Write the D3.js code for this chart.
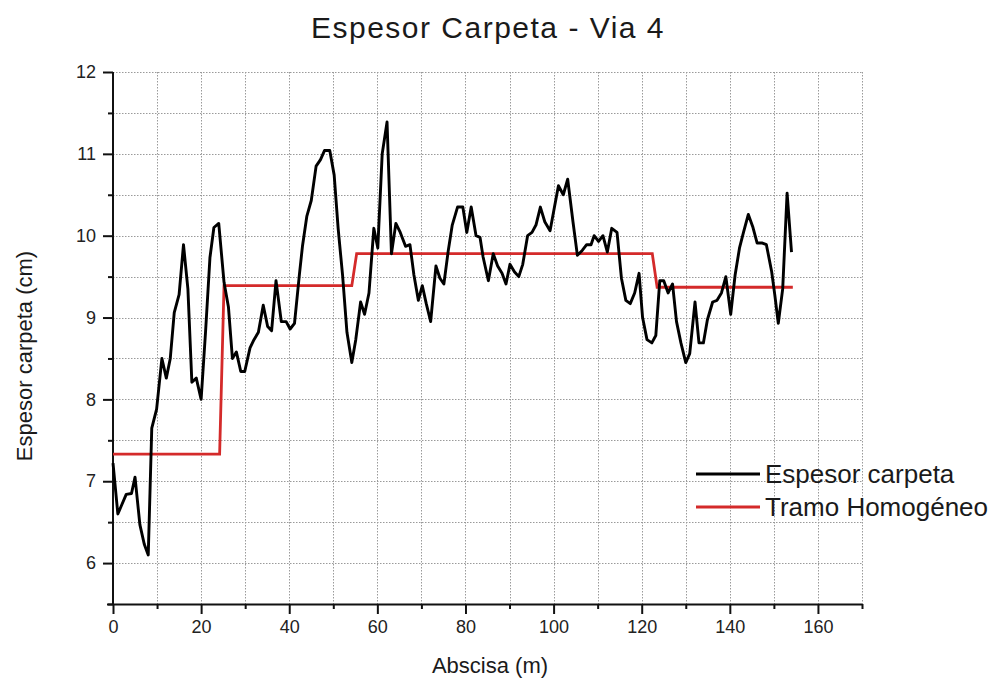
<!DOCTYPE html>
<html>
<head>
<meta charset="utf-8">
<script src="https://cdn.jsdelivr.net/npm/d3@7"></script>
<style>
  html, body { margin: 0; padding: 0; background: #fff; }
  svg { display: block; font-family: "Liberation Sans", Arial, sans-serif; }
</style>
</head>
<body>
<svg id="chart" width="996" height="683"></svg>
<script>
// ---- Data ----
const abscisa = [0,1.1,1.9,3.0,4.2,5.0,6.1,7.1,8.0,8.8,9.9,11.1,12.1,13.0,13.9,15.0,16.0,17.0,17.9,18.9,
  20.0,21.0,22.0,22.9,24.0,25.2,26.2,27.1,28.0,29.0,29.9,31.1,32.0,33.0,34.1,35.1,36.0,37.0,38.2,39.3,
  40.2,41.2,42.3,43.0,44.0,45.0,46.1,47.1,48.0,49.2,50.2,51.1,52.1,53.1,54.2,55.1,56.2,57.1,58.1,59.2,
  60.1,61.1,62.2,63.2,64.2,65.2,66.4,67.4,68.3,69.3,70.2,71.1,72.1,73.3,74.2,75.1,76.1,77.0,78.2,79.4,
  80.3,81.3,82.4,83.3,84.0,85.2,86.3,87.3,88.3,89.2,90.1,91.1,92.1,93.0,94.1,95.1,96.0,97.0,98.0,99.2,
  100.2,101.1,102.2,103.2,104.4,105.4,106.5,107.5,108.5,109.2,110.2,111.2,112.2,113.2,114.4,115.4,116.4,117.4,118.4,119.4,
  120.2,121.2,122.3,123.2,124.1,125.0,126.0,127.0,127.9,128.9,130.0,130.9,132.1,133.0,134.0,134.9,136.1,137.1,138.1,139.1,
  140.2,141.2,142.2,143.1,144.2,145.2,146.2,147.4,148.3,149.5,150.2,151.0,152.0,153.0,154.0];
const espesor = [7.22,6.6,6.7,6.84,6.85,7.05,6.47,6.23,6.1,7.65,7.88,8.5,8.26,8.5,9.06,9.28,9.89,9.35,8.21,8.26,
  8.0,8.82,9.73,10.1,10.15,9.43,9.13,8.5,8.58,8.34,8.34,8.63,8.73,8.82,9.15,8.89,8.84,9.45,8.95,8.95,
  8.86,8.93,9.52,9.87,10.24,10.43,10.85,10.93,11.04,11.04,10.74,10.09,9.52,8.82,8.45,8.73,9.19,9.04,9.3,10.09,
  9.85,11.0,11.39,9.78,10.15,10.04,9.87,9.89,9.52,9.21,9.39,9.17,8.95,9.63,9.48,9.41,9.82,10.13,10.35,10.35,
  10.04,10.35,10.0,9.98,9.74,9.45,9.78,9.63,9.54,9.41,9.65,9.56,9.5,9.65,10.0,10.04,10.13,10.35,10.17,10.06,
  10.35,10.61,10.5,10.69,10.17,9.76,9.82,9.89,9.89,10.0,9.93,10.0,9.8,10.09,10.04,9.48,9.21,9.17,9.3,9.54,
  9.0,8.73,8.69,8.78,9.45,9.45,9.3,9.41,8.95,8.69,8.45,8.56,9.19,8.69,8.69,8.97,9.19,9.21,9.3,9.5,
  9.04,9.52,9.85,10.04,10.26,10.11,9.91,9.91,9.89,9.56,9.28,8.93,9.35,10.52,9.8];
const tramoX = [0, 24.2, 25.2, 54.2, 55.3, 122.4, 123.5, 154.3];
const tramoY = [7.33, 7.33, 9.39, 9.39, 9.78, 9.78, 9.37, 9.37];
const xTicks = [0, 20, 40, 60, 80, 100, 120, 140, 160];
const xMinor = [10, 30, 50, 70, 90, 110, 130, 150, 170];
const yTicks = [6, 7, 8, 9, 10, 11, 12];
const yMinor = [5.5, 6.5, 7.5, 8.5, 9.5, 10.5, 11.5];
const seriesNames = ["Espesor carpeta", "Tramo Homogéneo"];
const titleText = "Espesor Carpeta - Via 4";
const xLabel = "Abscisa (m)";
const yLabel = "Espesor carpeta (cm)";

// ---- Layout ----
const L = 113, T = 72, R = 862, B = 604;
const svg = d3.select("#chart");
const x = d3.scaleLinear().domain([0, 170]).range([L, R]);
const y = d3.scaleLinear().domain([5.5, 12]).range([B, T]);

// grid
const gridX = d3.range(10, 171, 10);
const gridY = d3.range(6, 12.01, 0.5);
const grid = svg.append("g").attr("stroke", "#9a9a9a").attr("stroke-width", 1).attr("stroke-dasharray", "1.5,1.5");
grid.selectAll("line.gx").data(gridX).join("line").attr("class", "gx")
  .attr("x1", d => Math.round(x(d)) + 0.5).attr("x2", d => Math.round(x(d)) + 0.5)
  .attr("y1", T).attr("y2", B);
grid.selectAll("line.gy").data(gridY).join("line").attr("class", "gy")
  .attr("y1", d => Math.round(y(d)) + 0.5).attr("y2", d => Math.round(y(d)) + 0.5)
  .attr("x1", L).attr("x2", R);

// axes
const axFont = 18;
const xAxis = svg.append("g").attr("transform", `translate(0,${B})`)
  .call(d3.axisBottom(x).tickValues(xTicks).tickSize(10).tickPadding(6).tickFormat(d3.format("d")));
const xAxisMinor = svg.append("g").attr("transform", `translate(0,${B})`)
  .call(d3.axisBottom(x).tickValues(xMinor).tickSize(5).tickFormat(""));
const yAxis = svg.append("g").attr("transform", `translate(${L},0)`)
  .call(d3.axisLeft(y).tickValues(yTicks).tickSize(10).tickPadding(7).tickFormat(d3.format("d")));
const yAxisMinor = svg.append("g").attr("transform", `translate(${L},0)`)
  .call(d3.axisLeft(y).tickValues(yMinor).tickSize(5).tickFormat(""));
[xAxis, xAxisMinor, yAxis, yAxisMinor].forEach(g => {
  g.selectAll(".tick line").attr("stroke", "#111").attr("stroke-width", 2);
  g.selectAll(".tick text").attr("fill", "#222").style("font-size", axFont + "px")
    .style("font-family", "'Liberation Sans', Arial, sans-serif");
});
xAxis.select(".domain").attr("stroke", "#111").attr("stroke-width", 2).attr("d", `M${L - 6},0.5H${R}`);
xAxisMinor.select(".domain").remove();
yAxis.select(".domain").remove();
yAxisMinor.select(".domain").remove();
svg.append("line").attr("x1", L).attr("x2", L).attr("y1", T).attr("y2", B + 1)
  .attr("stroke", "#111").attr("stroke-width", 2);

// lines
const line = d3.line().x(d => x(d[0])).y(d => y(d[1]));
svg.append("path").datum(tramoX.map((v, i) => [v, tramoY[i]]))
  .attr("d", line).attr("fill", "none").attr("stroke", "#d42a2a").attr("stroke-width", 2.8);
svg.append("path").datum(abscisa.map((v, i) => [v, espesor[i]]))
  .attr("d", line).attr("fill", "none").attr("stroke", "#000").attr("stroke-width", 2.9)
  .attr("stroke-linejoin", "round");

// title and labels
svg.append("text").attr("x", 488).attr("y", 38).attr("text-anchor", "middle")
  .style("font-size", "30px").style("letter-spacing", "1.5px").attr("fill", "#1a1a1a").text(titleText);
svg.append("text").attr("x", 490).attr("y", 673).attr("text-anchor", "middle")
  .style("font-size", "22px").attr("fill", "#1a1a1a").text(xLabel);
svg.append("text").attr("transform", "translate(32,356) rotate(-90)").attr("text-anchor", "middle")
  .style("font-size", "22px").attr("fill", "#1a1a1a").text(yLabel);

// legend
const legColors = ["#000", "#d42a2a"];
const leg = svg.append("g");
seriesNames.forEach((name, i) => {
  const ly = 474 + i * 33;
  leg.append("line").attr("x1", 696).attr("x2", 760).attr("y1", ly).attr("y2", ly)
    .attr("stroke", legColors[i]).attr("stroke-width", 3);
  leg.append("text").attr("x", 765).attr("y", ly + 9).style("font-size", "26px")
    .attr("fill", "#1a1a1a").text(name);
});
</script>
</body>
</html>
